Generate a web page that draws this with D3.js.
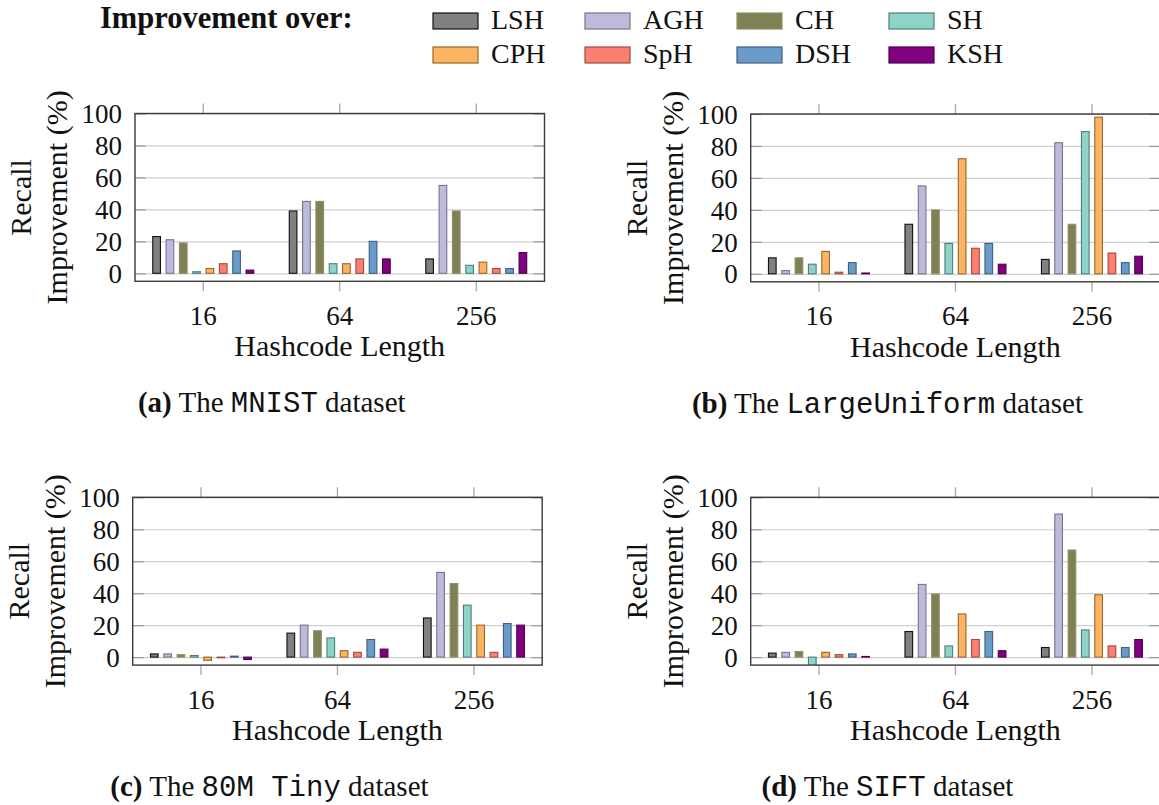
<!DOCTYPE html>
<html>
<head>
<meta charset="utf-8">
<script src="https://cdn.jsdelivr.net/npm/d3@7"></script>
<style>
  html, body { margin: 0; padding: 0; background: #fff; }
  svg { display: block; }
  text { font-family: "Liberation Serif", "Times New Roman", serif; fill: #111; }
  .mono { font-family: "Liberation Mono", "DejaVu Sans Mono", monospace; }
</style>
</head>
<body>
<svg id="chart" width="1159" height="805"></svg>
<script>
// ---- data -------------------------------------------------------------
const hashLengths = ["16", "64", "256"];
const methods = ["LSH", "AGH", "CH", "SH", "CPH", "SpH", "DSH", "KSH"];
const yTicks = [0, 20, 40, 60, 80, 100];

// recall improvement (%) per hashcode length, one value per method
const mnistValues = [
  [23, 21, 19, 1, 3, 6, 14, 2],
  [39, 45, 45, 6, 6, 9, 20, 9],
  [9, 55, 39, 5, 7, 3, 3, 13]
];
const largeUniformValues = [
  [10, 2, 10, 6, 14, 1, 7, 0.5],
  [31, 55, 40, 19, 72, 16, 19, 6],
  [9, 82, 31, 89, 98, 13, 7, 11]
];
const tinyValues = [
  [2, 2, 1.5, 1, -2, -0.4, 0.6, -1.5],
  [15, 20, 16.5, 12, 4, 3, 11, 5],
  [24.5, 53, 46, 32.5, 20, 3, 21, 20]
];
const siftValues = [
  [2.5, 3, 3.5, -6, 3, 1.5, 2, 0.4],
  [16, 45.5, 39.5, 7, 27, 11, 16, 4],
  [6, 89.5, 67, 17, 39, 7, 6, 11]
];

const fillColors = ["#808080", "#bebada", "#808055", "#8dd3c7", "#fdb462", "#fb8072", "#6a9bc8", "#800080"];
const strokeColors = ["#111111", "#77738f", "#8f8f68", "#4e7f77", "#98662c", "#a34a40", "#3d5f85", "#4d004d"];

// ---- layout -----------------------------------------------------------
const svg = d3.select("#chart");

const panels = [
  { tag: "(a)", name: "MNIST", values: mnistValues, left: 135, top: 113.5 },
  { tag: "(b)", name: "LargeUniform", values: largeUniformValues, left: 750.7, top: 114 },
  { tag: "(c)", name: "80M Tiny", values: tinyValues, left: 132.7, top: 497.3 },
  { tag: "(d)", name: "SIFT", values: siftValues, left: 750.7, top: 497.3 }
];
const plotW = 409.5, plotH = 167.8;

const color = d3.scaleOrdinal(methods, fillColors);
const stroke = d3.scaleOrdinal(methods, strokeColors);

panels.forEach((p, pi) => {
  const g = svg.append("g").attr("transform", `translate(${p.left},${p.top})`);

  const x = d3.scaleBand(hashLengths, [0, plotW]).padding(0);
  const step = x.bandwidth() / 10.24;
  const inner = d3.scaleBand(methods, [-4 * step, 4 * step])
    .paddingInner(0.35).paddingOuter(0.175);
  const y = d3.scaleLinear([-5, 100], [plotH, 0]);

  // clip region for the plot area
  const clipId = "clip" + pi;
  g.append("clipPath").attr("id", clipId)
    .append("rect").attr("x", 0).attr("y", 0).attr("width", plotW).attr("height", plotH);

  // horizontal grid lines
  g.append("g")
    .call(d3.axisLeft(y).tickValues(yTicks).tickSize(-plotW).tickFormat(""))
    .call(s => s.select(".domain").remove())
    .call(s => s.selectAll("line").attr("stroke", "#cfcfcf").attr("stroke-width", 1.2));

  // inner tick marks on left and right
  g.append("g")
    .call(d3.axisLeft(y).tickValues(yTicks).tickSize(-11).tickFormat(""))
    .call(s => s.select(".domain").remove())
    .call(s => s.selectAll("line").attr("stroke", "#9a9a9a").attr("stroke-width", 1.2));
  g.append("g").attr("transform", `translate(${plotW},0)`)
    .call(d3.axisRight(y).tickValues(yTicks).tickSize(-11).tickFormat(""))
    .call(s => s.select(".domain").remove())
    .call(s => s.selectAll("line").attr("stroke", "#9a9a9a").attr("stroke-width", 1.2));

  // y tick labels
  g.append("g")
    .call(d3.axisLeft(y).tickValues(yTicks).tickSize(0).tickPadding(13))
    .call(s => s.select(".domain").remove())
    .call(s => s.selectAll("text")
      .style("font-family", '"Liberation Serif", serif')
      .attr("font-size", 27).attr("fill", "#111").attr("dy", "0.34em"));

  // x ticks: outside, on bottom and top
  g.append("g").attr("transform", `translate(0,${plotH})`)
    .call(d3.axisBottom(x).tickSize(10).tickPadding(14))
    .call(s => s.select(".domain").remove())
    .call(s => s.selectAll("line").attr("stroke", "#a8a8a8").attr("stroke-width", 1.3))
    .call(s => s.selectAll("text")
      .style("font-family", '"Liberation Serif", serif')
      .attr("font-size", 27).attr("fill", "#111").attr("dy", "0.72em"));
  g.append("g")
    .call(d3.axisTop(x).tickSize(10).tickFormat(""))
    .call(s => s.select(".domain").remove())
    .call(s => s.selectAll("line").attr("stroke", "#a8a8a8").attr("stroke-width", 1.3));

  // bars
  const rows = [];
  p.values.forEach((vals, gi) => vals.forEach((v, mi) =>
    rows.push({ group: hashLengths[gi], method: methods[mi], value: v })));

  g.append("g").attr("clip-path", `url(#${clipId})`)
    .selectAll("rect").data(rows).join("rect")
    .attr("x", d => x(d.group) + x.bandwidth() / 2 + inner(d.method) + 0.5)
    .attr("width", inner.bandwidth() - 1)
    .attr("y", d => y(Math.max(0, d.value)))
    .attr("height", d => Math.abs(y(d.value) - y(0)))
    .attr("fill", d => color(d.method))
    .attr("stroke", d => stroke(d.method))
    .attr("stroke-width", 1.1);

  // frame
  g.append("rect").attr("width", plotW).attr("height", plotH)
    .attr("fill", "none").attr("stroke", "#3a3a3a").attr("stroke-width", 1.4);

  // axis titles
  g.append("text")
    .attr("x", plotW / 2).attr("y", plotH + 75)
    .attr("text-anchor", "middle").attr("font-size", 30)
    .text("Hashcode Length");
  g.append("text")
    .attr("transform", `translate(${-104},${plotH / 2}) rotate(-90)`)
    .attr("text-anchor", "middle").attr("font-size", 30)
    .text("Recall");
  g.append("text")
    .attr("transform", `translate(${-68},${plotH / 2}) rotate(-90)`)
    .attr("text-anchor", "middle").attr("font-size", 30)
    .text("Improvement (%)");

  // caption, centred under the whole sub-figure (labels + plot)
  const cap = g.append("text")
    .attr("x", plotW / 2 - 68)
    .attr("y", plotH + 131)
    .attr("text-anchor", "middle").attr("font-size", 29);
  cap.append("tspan").attr("font-weight", "bold").text(p.tag);
  cap.append("tspan").text(" The ");
  cap.append("tspan").attr("class", "mono").text(p.name);
  cap.append("tspan").text(" dataset");
});

// ---- legend -----------------------------------------------------------
const legend = svg.append("g");
legend.append("text")
  .attr("x", 100).attr("y", 28)
  .attr("font-size", 30.5).attr("font-weight", "bold")
  .text("Improvement over:");

const col = d3.scalePoint(d3.range(4), [433, 889]);
const row = d3.scalePoint(d3.range(2), [13, 47]);
const items = legend.selectAll("g.item").data(methods).join("g")
  .attr("class", "item")
  .attr("transform", (d, i) => `translate(${col(i % 4)},${row(Math.floor(i / 4))})`);
items.append("rect")
  .attr("width", 45).attr("height", 16)
  .attr("fill", d => color(d)).attr("stroke", d => stroke(d)).attr("stroke-width", 1.2);
items.append("text")
  .attr("x", 58).attr("y", 16)
  .attr("font-size", 28)
  .text(d => d);
</script>
</body>
</html>
